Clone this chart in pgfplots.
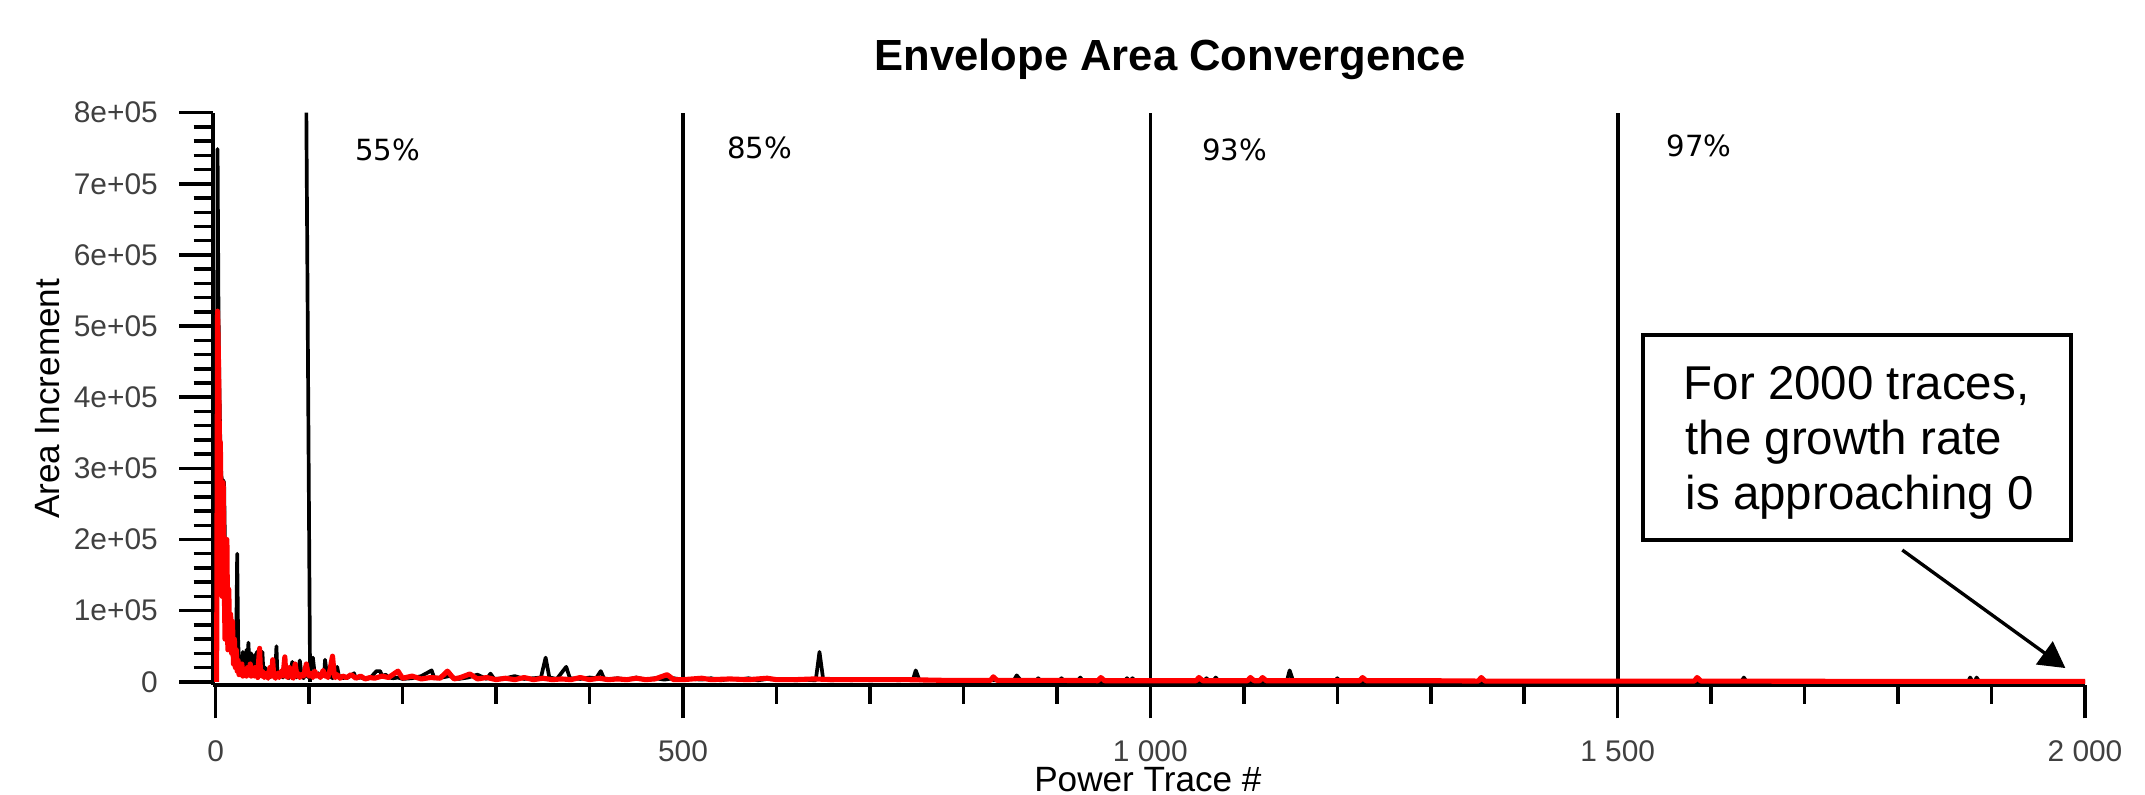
\documentclass[border=0pt]{standalone}
\usepackage{fontspec}
\setmainfont{Liberation Sans}
\newfontfamily\dejavu{DejaVu Sans}
\usepackage{pgfplots}
\pgfplotsset{compat=1.18}
\usetikzlibrary{arrows.meta}
\definecolor{ticklab}{gray}{0.25}
\begin{document}
\begin{tikzpicture}
\begin{axis}[
  at={(0,0)}, anchor=south west,
  scale only axis,
  width=18.723cm, height=5.723cm,
  xmin=-3.2, xmax=2000,
  ymin=-4500, ymax=800000,
  axis x line*=bottom, axis y line*=left,
  axis line style={-, line width=1.1pt, black},
  clip=false,
  tick align=outside,
  major tick length=0.335cm,
  minor tick length=0.19cm,
  tick style={line width=1.0pt, black},
  xtick={0,500,1000,1500,2000},
  xticklabels={0,500,1 000,1 500,2 000},
  minor xtick={100,200,300,400,600,700,800,900,1100,1200,1300,1400,1600,1700,1800,1900},
  ytick={0,100000,200000,300000,400000,500000,600000,700000,800000},
  yticklabels={0,1e+05,2e+05,3e+05,4e+05,5e+05,6e+05,7e+05,8e+05},
  minor ytick={20000,40000,...,780000},
  /pgf/number format/assume math mode=true,
  ticklabel style={font=\fontsize{8.5}{10}\selectfont, text=ticklab},
  xticklabel style={yshift=-0.1cm},
  yticklabel style={xshift=-0.09cm},
  scaled y ticks=false,
  xlabel={Power Trace \#},
  ylabel={Area Increment},
  label style={font=\fontsize{9.2}{11}\selectfont, text=black!85},
  every axis x label/.style={at={(axis description cs:0.4995,-0.166)}, anchor=center},
  every axis y label/.style={at={(axis description cs:-0.088,0.5)}, anchor=center, rotate=90},
]
% vertical markers
\addplot[black, line width=1.05pt] coordinates {(101,0) (97,800000)};
\addplot[black, line width=1.05pt] coordinates {(500,0) (500,800000)};
\addplot[black, line width=1.05pt] coordinates {(1000,0) (1000,800000)};
\addplot[black, line width=1.05pt] coordinates {(1500,0) (1500,800000)};
% black series
\addplot[black, line width=1.05pt, line join=round] coordinates {
(1,0) (2,749000) (3,520000) (4,410000) (5,330000) (6,290000) (7,282000) (8,283000) (9,280000) (10,180000)
(11,140000) (12,115000) (13,95000) (14,80000) (15,70000) (16,62000) (17,55000) (18,60000) (19,58000) (20,45000)
(21,30000) (22,60000) (23,180000) (24,60000) (25,22000) (26,18000) (27,30000) (28,15000) (29,42000) (30,20000)
(31,38000) (32,12000) (33,45000) (34,20000) (35,55000) (36,25000) (37,15000) (38,40000) (39,12000) (40,30000)
(41,10000) (42,38000) (43,20000) (44,42000) (45,10000) (46,15000) (47,25000) (48,9000) (49,20000) (50,42000)
(51,15000) (52,8000) (53,20000) (54,10000) (55,12000) (56,8000) (57,15000) (58,6000) (59,10000) (60,8000)
(62,12000) (64,20000) (65,50000) (66,12000) (68,8000) (70,10000) (72,6000) (74,12000) (76,8000) (78,5000)
(80,15000) (82,28000) (84,10000) (86,6000) (88,12000) (90,30000) (92,8000) (94,5000) (96,12000) (98,8000)
(100,6000) (102,28000) (104,34000) (106,10000) (108,8000) (110,12000) (112,6000) (114,10000) (116,8000) (117,31000)
(119,10000) (121,6000) (123,8000) (125,5000) (127,10000) (130,21000) (132,6000) (134,8000) (136,5000) (138,6000)
(140,5000) (144,8000) (148,12000) (150,5000) (155,6000) (160,4000) (165,5000) (172,15000) (176,15000) (178,8000)
(182,10000) (185,6000) (190,5000) (195,6000) (200,4000) (210,5000) (220,8000) (231,16000) (234,5000) (242,6000)
(250,8000) (260,4000) (270,6000) (280,10000) (290,4000) (294,11500) (298,4000) (310,5000) (320,8000) (330,4000)
(340,5000) (348,6000) (353,34000) (357,6000) (365,4000) (375,21000) (379,5000) (390,4000) (400,6000) (407,5000)
(412,15000) (416,3000) (430,5000) (440,3000) (450,6000) (460,3000) (470,5000) (480,3000) (490,5000) (500,3000)
(510,4000) (520,3000) (530,5000) (540,2000) (550,4000) (560,3000) (570,5000) (580,2000) (590,4000) (600,3000)
(610,4000) (620,2000) (630,3000) (642,2000) (646,42000) (650,3000) (660,2000) (670,4000) (680,2000) (690,4000)
(700,2000) (710,3000) (720,4000) (730,2000) (740,3000) (746,3000) (749,16000) (753,2000) (770,2000) (790,2000)
(810,2000) (830,2000) (854,2000) (857,9000) (862,1000) (877,1000) (880,5000) (883,1000) (902,1000) (905,5000)
(908,1000) (922,1000) (925,6000) (928,1000) (972,1000) (975,5000) (978,1000) (981,5000) (984,1000) (1010,1000)
(1057,1000) (1060,5000) (1063,1000) (1067,1000) (1070,6000) (1073,1000) (1110,500) (1146,500) (1149,16000) (1153,500)
(1197,500) (1200,5000) (1203,500) (1300,0) (1400,0) (1632,0) (1635,6000) (1638,0) (1700,0) (1800,0)
(1875,0) (1877,6000) (1880,0) (1882,0) (1884,6000) (1887,0) (1950,0) (2000,0)
};
% red series
\addplot[red, line width=1.45pt, line join=round] coordinates {
(1,0) (2,521000) (3,450000) (4,340000) (5,336000) (6,200000) (7,120000) (8,280000) (9,150000) (10,60000)
(11,102000) (12,200000) (13,45000) (14,130000) (15,60000) (16,95000) (17,40000) (18,85000) (19,25000) (20,60000)
(21,20000) (22,45000) (23,15000) (24,30000) (25,10000) (26,20000) (27,12000) (28,25000) (29,8000) (30,18000)
(31,10000) (32,15000) (33,8000) (34,20000) (35,10000) (36,12000) (37,25000) (38,8000) (39,15000) (40,10000)
(41,8000) (42,20000) (43,10000) (44,12000) (45,6000) (46,30000) (47,47000) (48,10000) (49,8000) (50,15000)
(52,6000) (54,12000) (56,5000) (58,20000) (60,8000) (61,31000) (62,10000) (64,5000) (66,12000) (68,6000)
(70,15000) (72,8000) (74,35000) (75,10000) (77,6000) (79,20000) (81,8000) (83,5000) (85,25000) (87,8000)
(88,12000) (90,6000) (92,10000) (94,8000) (97,25000) (99,10000) (100,8000) (102,12000) (104,6000) (106,15000)
(108,8000) (110,10000) (112,6000) (115,16000) (117,8000) (118,10000) (120,6000) (122,15000) (125,36000) (127,8000)
(128,6000) (130,10000) (133,5000) (136,8000) (140,6000) (145,10000) (150,5000) (155,8000) (160,4000) (165,6000)
(170,5000) (178,8000) (185,6000) (195,15000) (200,5000) (210,8000) (220,4000) (230,6000) (240,5000) (248,15000)
(255,4000) (262,6000) (272,11000) (280,4000) (290,6000) (300,3000) (310,5000) (320,3000) (330,6000) (340,3000)
(350,5000) (360,3000) (370,4000) (380,3000) (390,6000) (400,3000) (410,5000) (420,3000) (430,4000) (440,3000)
(450,5000) (460,3000) (470,4000) (483,10000) (490,3000) (500,3000) (520,5000) (530,3000) (550,4000) (570,3000)
(590,5000) (600,3000) (620,3000) (640,4000) (660,3000) (700,3000) (740,3000) (780,2000) (829,2000) (832,7000)
(836,2000) (860,2000) (900,2000) (944,1500) (947,6000) (951,1500) (1000,1500) (1049,1500) (1052,6000) (1056,1500)
(1104,1500) (1107,6000) (1111,1500) (1117,1500) (1120,6000) (1124,1500) (1160,1500) (1224,1500) (1227,6000) (1231,1500)
(1300,1500) (1351,1000) (1354,6000) (1358,1000) (1500,1000) (1582,1000) (1585,6000) (1589,1000) (1800,500) (2000,500)
};
% percent labels
\node[font=\dejavu\fontsize{8.3}{10}\selectfont] at (axis cs:184,748000) {55\%};
\node[font=\dejavu\fontsize{8.3}{10}\selectfont] at (axis cs:582,751000) {85\%};
\node[font=\dejavu\fontsize{8.3}{10}\selectfont] at (axis cs:1090,748000) {93\%};
\node[font=\dejavu\fontsize{8.3}{10}\selectfont] at (axis cs:1587,753000) {97\%};
% annotation box
\draw[black, line width=0.95pt] (axis cs:1527,487500) rectangle (axis cs:1985,199200);
\node[anchor=base west, inner sep=0pt, font=\fontsize{13.5}{15.6}\selectfont] at (axis cs:1570,397500) {For 2000 traces,};
\node[anchor=base west, inner sep=0pt, font=\fontsize{13.5}{15.6}\selectfont] at (axis cs:1572,320100) {the growth rate};
\node[anchor=base west, inner sep=0pt, font=\fontsize{13.5}{15.6}\selectfont] at (axis cs:1572,242800) {is approaching 0};
\draw[black, line width=0.95pt, -{Triangle[length=0.26cm, width=0.28cm]}] (axis cs:1804.5,185200) -- (axis cs:1979,19300);
% title
\node[font=\bfseries\fontsize{12.4}{15}\selectfont] at (axis description cs:0.5113,1.0938) {Envelope Area Convergence};
\end{axis}
\pgfresetboundingbox
\useasboundingbox (-2.127cm,-1.10cm) rectangle (19.323cm,6.85cm);
\end{tikzpicture}
\end{document}
